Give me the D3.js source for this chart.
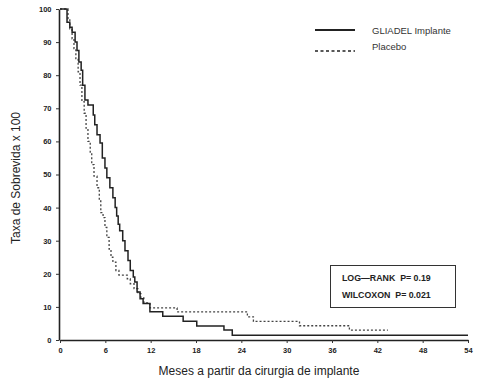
<!DOCTYPE html>
<html>
<head>
<meta charset="utf-8">
<script src="https://cdn.jsdelivr.net/npm/d3@7"></script>
<style>
  body { margin: 0; background: #fff; }
  svg { display: block; }
</style>
</head>
<body>
<script>
// survival curves (months, survival %)
var gliadelMonths = [0, 0.93, 1.3, 1.6, 2.0, 2.25, 2.5, 2.8, 3.0, 3.3, 3.7, 4.4, 4.6, 4.9, 5.3, 5.6, 5.95, 6.2, 6.6, 7.0, 7.3, 7.5, 7.7, 7.9, 8.3, 8.6, 9.0, 9.3, 9.7, 9.9, 10.2, 10.6, 11.0, 11.9, 13.6, 16.3, 18.1, 21.7, 22.8, 32.5, 54];
var gliadelSurv   = [100, 96, 94.5, 93, 90, 87.5, 84, 81.5, 77, 72.5, 71, 68, 65, 62, 59.5, 55, 52, 49, 46, 43, 40, 37.5, 35, 33, 30, 27, 24, 21, 19, 17.5, 14.5, 12.5, 11, 8.5, 7.2, 5.7, 4.2, 3.0, 1.4, 1.4, 1.4];
var placeboMonths = [0, 1.06, 1.3, 1.6, 1.85, 2.1, 2.4, 2.65, 2.9, 3.2, 3.45, 3.7, 4.0, 4.2, 4.5, 4.9, 5.2, 5.4, 5.7, 5.95, 6.2, 6.5, 6.75, 7.0, 7.4, 7.8, 8.9, 9.3, 9.8, 10.3, 10.7, 11.1, 11.9, 15.5, 24.8, 25.6, 31.7, 38.3, 43.4];
var placeboSurv   = [100, 97, 94, 91, 88, 85, 81, 77, 72, 68.5, 64, 60, 56.5, 53, 49.5, 46, 42, 38.5, 37, 34, 31, 27.5, 25, 23.5, 21, 19.6, 18.5, 17, 15.5, 14, 12.7, 11.2, 9.7, 8.5, 7, 5.6, 4.3, 3.0, 3.0];

var xTicks = [0, 6, 12, 18, 24, 30, 36, 42, 48, 54];
var yTicks = [0, 10, 20, 30, 40, 50, 60, 70, 80, 90, 100];
var seriesNames = ["GLIADEL Implante", "Placebo"];
var statsLines = ["LOG\u2014RANK  P= 0.19", "WILCOXON  P= 0.021"];

var W = 484, H = 384;
var svg = d3.select("body").append("svg")
    .attr("width", W)
    .attr("height", H);

var x = d3.scaleLinear().domain([0, 54]).range([60, 468]);
var y = d3.scaleLinear().domain([0, 100]).range([340, 9]);

// axes
var xAxis = svg.append("g")
    .attr("transform", "translate(0,340)")
    .call(d3.axisBottom(x).tickValues(xTicks).tickSize(3).tickSizeOuter(0));
var yAxis = svg.append("g")
    .attr("transform", "translate(59,0)")
    .call(d3.axisLeft(y).tickValues(yTicks).tickSize(3).tickSizeOuter(0));

[xAxis, yAxis].forEach(function(a) {
  a.select(".domain").attr("stroke", "#222").attr("stroke-width", 1.6);
  a.selectAll(".tick line").attr("stroke", "#333");
  a.selectAll(".tick text")
      .attr("fill", "#222")
      .style("font-family", "'Liberation Sans', Arial, sans-serif")
      .style("font-weight", "bold")
      .style("font-size", "7.5px");
});
xAxis.selectAll(".tick text").attr("dy", "0.9em");
yAxis.selectAll(".tick text").attr("dx", "-0.2em");

// axis titles
svg.append("text")
    .attr("x", 259).attr("y", 375)
    .attr("text-anchor", "middle")
    .style("font-family", "Arial, 'Liberation Sans', sans-serif")
    .style("font-size", "12px")
    .attr("fill", "#222")
    .text("Meses a partir da cirurgia de implante");

svg.append("text")
    .attr("transform", "translate(20,178) rotate(-90)")
    .attr("text-anchor", "middle")
    .style("font-family", "Arial, 'Liberation Sans', sans-serif")
    .style("font-size", "12px")
    .attr("fill", "#222")
    .text("Taxa de Sobrevida x 100");

// curves
var line = d3.line()
    .x(function(d) { return x(d[0]); })
    .y(function(d) { return y(d[1]); })
    .curve(d3.curveStepAfter);

svg.append("path")
    .datum(d3.zip(placeboMonths, placeboSurv))
    .attr("d", line)
    .attr("fill", "none")
    .attr("stroke", "#444")
    .attr("stroke-width", 1.3)
    .attr("stroke-dasharray", "2,2");

svg.append("path")
    .datum(d3.zip(gliadelMonths, gliadelSurv))
    .attr("d", line)
    .attr("fill", "none")
    .attr("stroke", "#222")
    .attr("stroke-width", 1.5);

// legend
var legend = svg.append("g");
seriesNames.forEach(function(name, i) {
  var ly = i == 0 ? 30 : 51;
  legend.append("line")
      .attr("x1", 315).attr("x2", 355)
      .attr("y1", ly).attr("y2", ly)
      .attr("stroke", "#222")
      .attr("stroke-width", i == 0 ? 2 : 1.3)
      .attr("stroke-dasharray", i == 0 ? null : "3,2.5");
  legend.append("text")
      .attr("x", 372).attr("y", i == 0 ? 34 : 50)
      .style("font-family", "Arial, 'Liberation Sans', sans-serif")
      .style("font-size", "9.5px")
      .attr("fill", "#333")
      .text(name);
});

// stats box
svg.append("rect")
    .attr("x", 330.5).attr("y", 265.5)
    .attr("width", 125).attr("height", 42)
    .attr("fill", "#fff")
    .attr("stroke", "#333")
    .attr("stroke-width", 1);
statsLines.forEach(function(s, i) {
  svg.append("text")
      .attr("x", 342).attr("y", 281 + i * 17)
      .style("font-family", "'Liberation Sans', Arial, sans-serif")
      .style("font-weight", "bold")
      .style("font-size", "8.8px")
      .style("white-space", "pre")
      .attr("fill", "#222")
      .text(s);
});
</script>
</body>
</html>
